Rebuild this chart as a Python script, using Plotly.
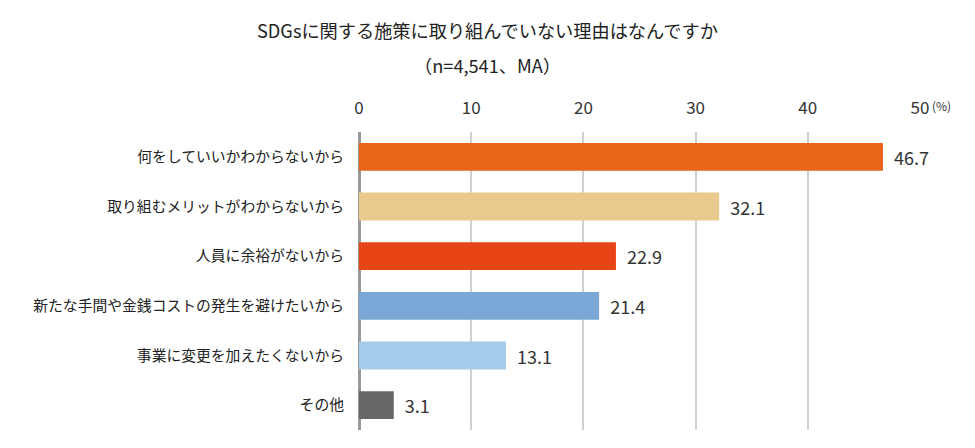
import plotly.graph_objects as go

# 回答項目（上から順）
categories = [
    "何をしていいかわからないから",
    "取り組むメリットがわからないから",
    "人員に余裕がないから",
    "新たな手間や金銭コストの発生を避けたいから",
    "事業に変更を加えたくないから",
    "その他",
]
values = [46.7, 32.1, 22.9, 21.4, 13.1, 3.1]
colors = ["#E8651A", "#EAC98F", "#E84517", "#7BA8D6", "#A5CBEA", "#666666"]
tick_vals = [0, 10, 20, 30, 40, 50]

title_lines = ["SDGsに関する施策に取り組んでいない理由はなんですか", "（n=4,541、MA）"]
font_family = "Noto Sans CJK JP"

# ページの body 余白 (8px) を差し引いた配置
W, H = 975, 448
ML, MR, MT, MB = 351, 63, 124, 26

fig = go.Figure(go.Bar(
    x=values,
    y=categories,
    orientation="h",
    marker=dict(color=colors, line=dict(width=0)),
    width=0.56,
    text=[f"  {v:.1f}" for v in values],
    textposition="outside",
    textfont=dict(size=18, color="#333333", family=font_family),
    cliponaxis=False,
))

fig.update_layout(
    width=W,
    height=H,
    margin=dict(l=ML, r=MR, t=MT, b=MB),
    paper_bgcolor="white",
    plot_bgcolor="white",
    showlegend=False,
    font=dict(family=font_family, color="#333333"),
    xaxis=dict(
        side="top",
        range=[0, 50],
        tickvals=tick_vals,
        tickfont=dict(size=17, color="#333333"),
        ticklabelstandoff=14,
        showgrid=True,
        gridcolor="#D0D0D0",
        gridwidth=1.5,
        zeroline=True,
        zerolinecolor="#999999",
        zerolinewidth=3,
        showline=False,
        ticks="",
        fixedrange=True,
    ),
    yaxis=dict(
        autorange="reversed",
        tickfont=dict(size=14.8, color="#222222"),
        showgrid=False,
        ticks="",
        ticklabelstandoff=14,
        fixedrange=True,
    ),
)

# タイトル2行（ピクセル位置から paper 座標へ換算）
plot_w = W - ML - MR
plot_h = H - MT - MB
for line, ypix in zip(title_lines, [22, 57]):
    fig.add_annotation(
        text=line,
        xref="paper", x=(479 - ML) / plot_w, xanchor="center",
        yref="paper", y=(H - MB - ypix) / plot_h, yanchor="middle",
        showarrow=False, font=dict(size=18.2, color="#222222"),
    )

fig.add_annotation(
    text="(%)", x=50, xref="x", y=1, yref="paper",
    xanchor="left", yanchor="bottom", xshift=10, yshift=16,
    showarrow=False, font=dict(size=12, color="#333333"),
)

fig.write_html("out.html")
